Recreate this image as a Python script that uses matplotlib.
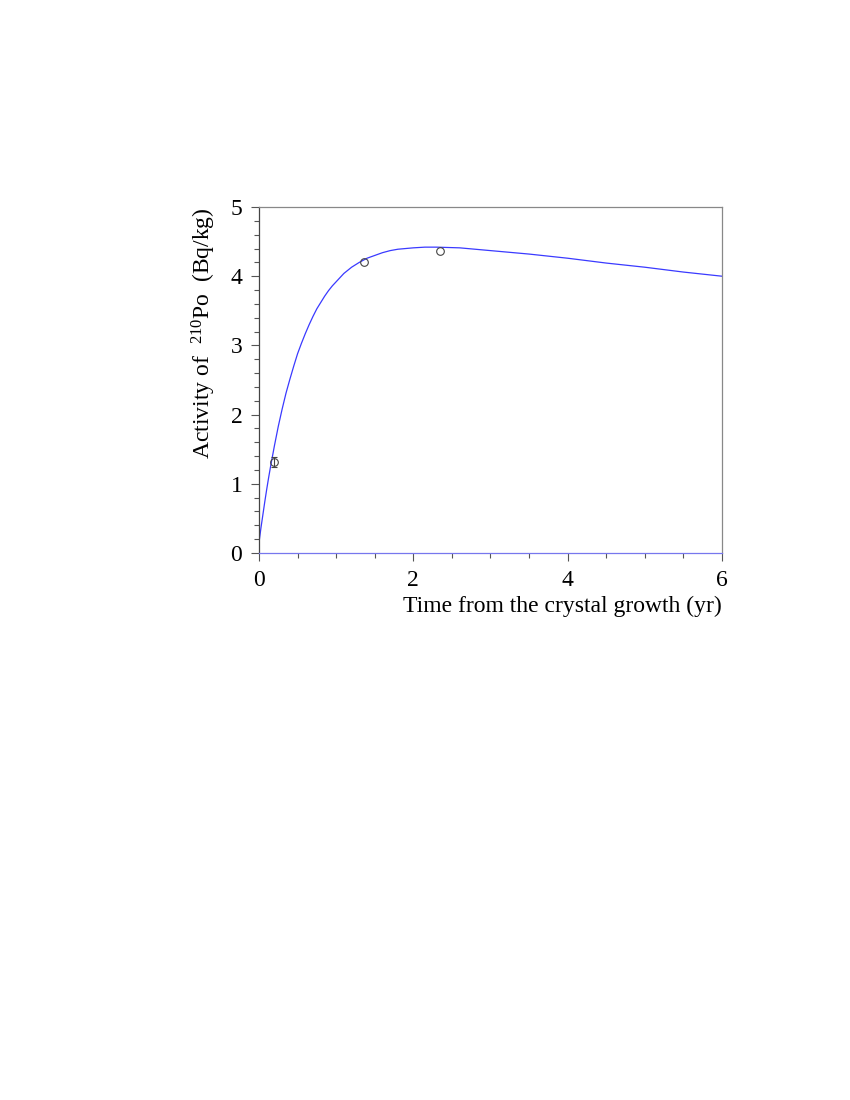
import matplotlib
matplotlib.use("Agg")
import matplotlib.pyplot as plt
from matplotlib.ticker import MultipleLocator

plt.rcParams['font.family'] = ['Liberation Serif', 'DejaVu Serif']
plt.rcParams['mathtext.fontset'] = 'custom'
plt.rcParams['mathtext.rm'] = 'Liberation Serif'
plt.rcParams['mathtext.it'] = 'Liberation Serif:italic'

# Fitted curve
curve_t = [0.0, 0.025, 0.05, 0.075, 0.1, 0.125, 0.15, 0.175, 0.2, 0.225, 0.25, 0.3, 0.35,
           0.4, 0.45, 0.5, 0.55, 0.6, 0.65, 0.7, 0.75, 0.8, 0.85, 0.9, 0.95,
           1.0, 1.1, 1.2, 1.3, 1.4, 1.5, 1.6, 1.7, 1.8, 1.9, 2.0, 2.15, 2.3, 2.6,
           3.0, 3.5, 4.0, 4.5, 5.0, 5.5, 6.0]
curve_a = [0.15, 0.36, 0.55, 0.74, 0.92, 1.09, 1.25, 1.40, 1.55, 1.69, 1.83, 2.08, 2.31,
           2.51, 2.70, 2.88, 3.03, 3.17, 3.30, 3.42, 3.53, 3.62, 3.71, 3.79, 3.86,
           3.92, 4.04, 4.13, 4.20, 4.26, 4.30, 4.34, 4.37, 4.39, 4.40, 4.41, 4.42, 4.42, 4.41,
           4.37, 4.32, 4.26, 4.19, 4.13, 4.06, 4.00]

# Measurements
meas_t = [0.20, 1.36, 2.34]
meas_a = [1.31, 4.21, 4.37]
meas_err = [0.07, 0.0, 0.0]

fig = plt.figure(figsize=(8.5, 11), dpi=100)
ax = fig.add_axes([0.3047, 0.4973, 0.8494 - 0.3047, 0.8118 - 0.4973])

ax.plot(curve_t, curve_a, color='#3a3aff', lw=0.9)
ax.errorbar(meas_t[:1], meas_a[:1], yerr=meas_err[:1], fmt='none',
            ecolor='#444444', elinewidth=0.8, capsize=2.5, capthick=0.8)
ax.plot(meas_t, meas_a, 'o', ms=5.5, mfc='none', mec='#444444', mew=0.8)

ax.set_xlim(0, 6)
ax.set_ylim(0, 5)
ax.xaxis.set_major_locator(MultipleLocator(2))
ax.xaxis.set_minor_locator(MultipleLocator(0.5))
ax.yaxis.set_major_locator(MultipleLocator(1))
ax.yaxis.set_minor_locator(MultipleLocator(0.2))

ax.tick_params(which='major', direction='out', length=6, width=0.8, color='#555555',
               labelsize=17)
ax.tick_params(axis='x', which='major', pad=6)
ax.tick_params(axis='y', which='major', pad=6)
ax.tick_params(which='minor', direction='out', length=3.5, width=0.8, color='#555555')
ax.tick_params(top=False, right=False, which='both')

ax.spines['left'].set_color('#444444')
ax.spines['bottom'].set_color('#7777ee')
ax.spines['top'].set_color('#888888')
ax.spines['right'].set_color('#888888')
for s in ax.spines.values():
    s.set_linewidth(0.9)

ax.set_xlabel('Time from the crystal growth (yr)', fontsize=17, loc='right', labelpad=4)
ax.set_ylabel(r'Activity of  $^{210}$Po  (Bq/kg)', fontsize=17, loc='top', labelpad=9)

fig.savefig('out.png', dpi=100)
